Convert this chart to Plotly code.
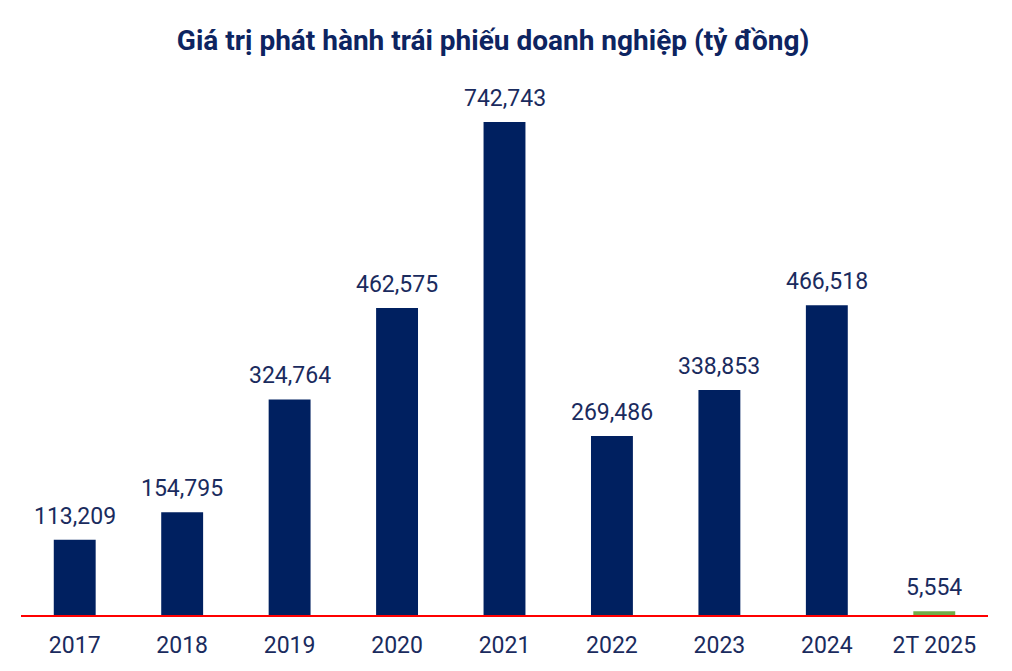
import plotly.graph_objects as go

categories = ["2017", "2018", "2019", "2020", "2021", "2022", "2023", "2024", "2T 2025"]
values = [113209, 154795, 324764, 462575, 742743, 269486, 338853, 466518, 5554]
bar_colors = ["#002060"] * 8 + ["#70AD47"]
labels = [f"{v:,}" for v in values]

W, H = 996, 655  # page body has an 8px margin

fig = go.Figure(go.Bar(
    x=categories, y=values, marker=dict(color=bar_colors, line=dict(width=0)),
    cliponaxis=False,
))

# value labels: annotations placed at the category index, anchored on the bar top
for i, (v, t) in enumerate(zip(values, labels)):
    fig.add_annotation(x=i, y=v, text=t, showarrow=False, yanchor="bottom", yshift=8,
                       font=dict(family="Roboto", size=23, color="#1a2b5e"))

fig.update_layout(
    width=W, height=H,
    margin=dict(l=13, r=16, t=72, b=48, autoexpand=False),
    plot_bgcolor="white", paper_bgcolor="white",
    bargap=0.61,
    showlegend=False,
    title=dict(text="<b>Giá trị phát hành trái phiếu doanh nghiệp (tỷ đồng)</b>",
               x=0.487, xanchor="center", y=1 - 32 / H, yanchor="middle", yref="container",
               font=dict(family="Roboto", size=28, color="#0d2461")),
    xaxis=dict(type="category", categoryorder="array", categoryarray=categories,
               range=[-0.5, len(categories) - 0.5],
               showline=True, linecolor="#ff0000", linewidth=2, ticks="", showgrid=False,
               automargin=False, ticklabelstandoff=8,
               tickfont=dict(family="Roboto", size=23, color="#1a2b5e")),
    yaxis=dict(visible=False, range=[0, 806000]),
)

fig.write_html("out.html")
